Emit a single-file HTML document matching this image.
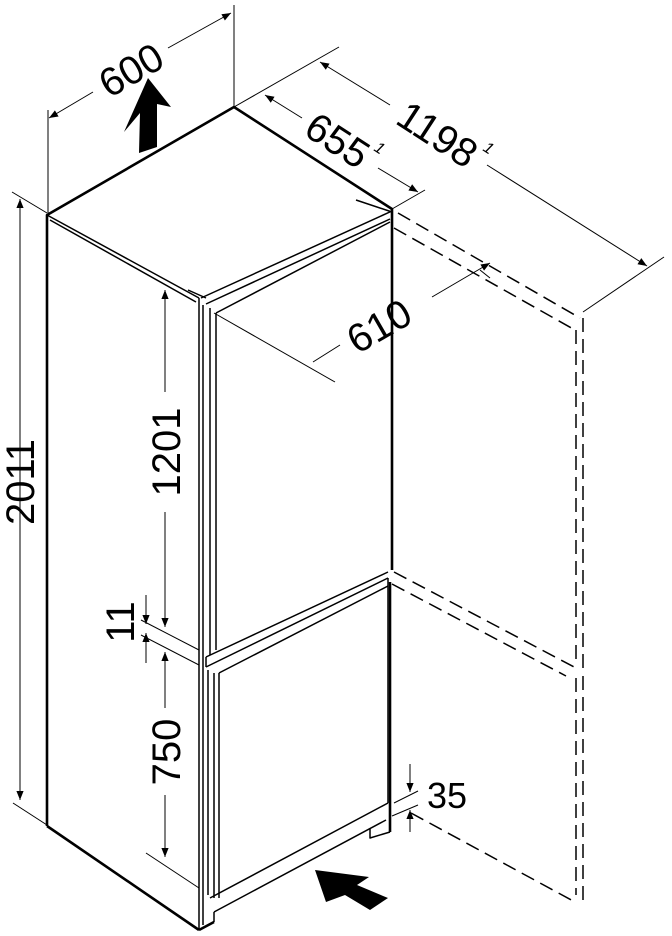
<!DOCTYPE html>
<html><head><style>html,body{margin:0;padding:0;background:#fff}svg{display:block}text{font-family:"Liberation Sans",Arial,sans-serif;fill:#000}</style></head>
<body>
<svg width="672" height="936" viewBox="0 0 672 936" xmlns="http://www.w3.org/2000/svg">
<defs>
<marker id="a" viewBox="0 0 10 10" refX="10" refY="5" markerWidth="14" markerHeight="9" markerUnits="userSpaceOnUse" orient="auto-start-reverse"><path d="M0,1 L10,5 L0,9 z" fill="#000"/></marker>
</defs>
<g fill="none" stroke="#000" stroke-linejoin="round">
<g stroke-width="2.6">
<polyline points="47,826 47,215 234,107 392,209 392,570"/>
<line x1="390" y1="582" x2="390" y2="832"/>
<line x1="47" y1="826" x2="199" y2="930"/>
<line x1="199" y1="930" x2="214" y2="922"/>
</g>
<g stroke-width="1.5">
<line x1="47" y1="215" x2="199" y2="298"/>
<line x1="50" y1="220" x2="196" y2="302"/>
<line x1="199" y1="298" x2="199" y2="930"/>
<line x1="203" y1="305" x2="203" y2="925"/>
<line x1="201" y1="298" x2="392" y2="211"/>
<line x1="206" y1="304" x2="390" y2="219"/>
<line x1="216" y1="313" x2="390" y2="222"/>
<line x1="356" y1="200" x2="392" y2="212"/>
<line x1="188" y1="290" x2="206" y2="298"/>
<line x1="210" y1="308" x2="210" y2="655"/>
<line x1="216" y1="313" x2="216" y2="650"/>
<line x1="206" y1="657" x2="388" y2="572"/>
<line x1="206" y1="667" x2="388" y2="578"/>
<line x1="219" y1="673" x2="388" y2="586"/>
<line x1="206" y1="657" x2="206" y2="667"/>
<line x1="208" y1="670" x2="208" y2="895"/>
<line x1="214" y1="673" x2="214" y2="898"/>
<line x1="219" y1="673" x2="219" y2="898"/>
<line x1="210" y1="898" x2="388" y2="803"/>
<line x1="388" y1="578" x2="388" y2="803"/>
<line x1="214" y1="922" x2="214" y2="912"/>
<line x1="214" y1="912" x2="386" y2="820"/>
<polyline points="370,828 370,838 390,832"/>
</g>
<g stroke-width="1.5" stroke-dasharray="14,7">
<line x1="398" y1="213" x2="580" y2="318"/>
<line x1="394" y1="228" x2="575" y2="330"/>
<line x1="576" y1="330" x2="576" y2="664"/>
<line x1="583" y1="318" x2="583" y2="668"/>
<line x1="394" y1="572" x2="576" y2="668"/>
<line x1="392" y1="584" x2="566" y2="676"/>
<line x1="576" y1="678" x2="576" y2="895"/>
<line x1="583" y1="676" x2="583" y2="900"/>
<line x1="411" y1="813" x2="575" y2="902"/>
</g>
<g stroke-width="1">
<line x1="12" y1="192" x2="47" y2="213"/>
<line x1="13" y1="803" x2="47" y2="825"/>
<line x1="20" y1="199" x2="20" y2="800" marker-start="url(#a)" marker-end="url(#a)"/>
<line x1="165" y1="290" x2="165" y2="392" marker-start="url(#a)"/>
<line x1="165" y1="512" x2="165" y2="627" marker-end="url(#a)"/>
<line x1="141" y1="620" x2="199" y2="650"/>
<line x1="141" y1="635" x2="199" y2="665"/>
<line x1="146" y1="595" x2="146" y2="624" marker-end="url(#a)"/>
<line x1="146" y1="663" x2="146" y2="633" marker-end="url(#a)"/>
<line x1="165" y1="652" x2="165" y2="708" marker-start="url(#a)"/>
<line x1="165" y1="795" x2="165" y2="857" marker-end="url(#a)"/>
<line x1="146" y1="853" x2="199" y2="888"/>
<line x1="410" y1="764" x2="410" y2="792" marker-end="url(#a)"/>
<line x1="410" y1="832" x2="410" y2="810" marker-end="url(#a)"/>
<line x1="394" y1="803" x2="418" y2="791"/>
<line x1="392" y1="816" x2="418" y2="805"/>
<line x1="48" y1="110" x2="48" y2="213"/>
<line x1="234" y1="5" x2="234" y2="107"/>
<line x1="49" y1="118" x2="93" y2="92" marker-start="url(#a)"/>
<line x1="168" y1="48" x2="231" y2="13" marker-end="url(#a)"/>
<line x1="234" y1="107" x2="339" y2="47"/>
<line x1="392" y1="209" x2="425" y2="190"/>
<line x1="265" y1="95" x2="302" y2="118" marker-start="url(#a)"/>
<line x1="378" y1="168" x2="418" y2="192" marker-end="url(#a)"/>
<line x1="320" y1="62" x2="390" y2="105" marker-start="url(#a)"/>
<line x1="487" y1="165" x2="647" y2="266" marker-end="url(#a)"/>
<line x1="583" y1="312" x2="664" y2="257"/>
<line x1="490" y1="263" x2="432" y2="297" marker-start="url(#a)"/>
<line x1="480" y1="270" x2="490" y2="278"/>
<line x1="214" y1="313" x2="335" y2="382"/>
<line x1="340" y1="345" x2="313" y2="362"/>
</g>
</g>
<polygon points="148,78 171,107 157,104 157,147 139,153 140,113 124,132" fill="#000"/>
<polygon points="315,870 369,877 357,885 388,898 370,910 345,895 326,902" fill="#000"/>
<text x="0" y="0" font-size="40" text-anchor="middle" transform="translate(34,482) rotate(-90)">2011</text>
<text x="0" y="0" font-size="40" text-anchor="middle" transform="translate(180,452) rotate(-90)">1201</text>
<text x="0" y="0" font-size="40" text-anchor="middle" transform="translate(134,622) rotate(-90)">11</text>
<text x="0" y="0" font-size="40" text-anchor="middle" transform="translate(180,752) rotate(-90)">750</text>
<text x="427" y="808" font-size="36">35</text>
<text x="0" y="0" font-size="40" text-anchor="middle" transform="translate(138,82) rotate(-30)">600</text>
<text x="0" y="0" font-size="40" text-anchor="middle" transform="translate(330,152) rotate(33)">655</text>
<text x="0" y="0" font-size="16" font-style="italic" transform="translate(373,150) rotate(33)">1</text>
<text x="0" y="0" font-size="40" text-anchor="middle" transform="translate(430,146) rotate(33)">1198</text>
<text x="0" y="0" font-size="16" font-style="italic" transform="translate(482,150) rotate(33)">1</text>
<text x="0" y="0" font-size="40" text-anchor="middle" transform="translate(386,338) rotate(-30)">610</text>
</svg>
</body></html>
